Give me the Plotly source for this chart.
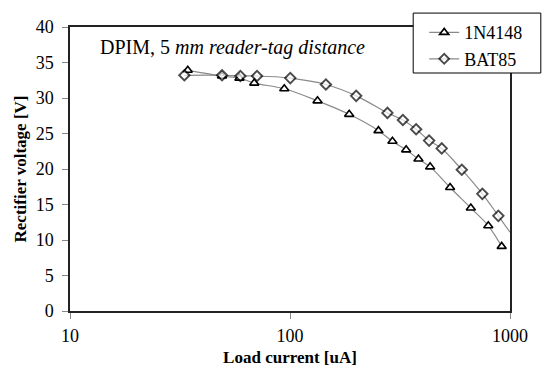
import plotly.graph_objects as go

# Load current [uA] and rectifier output voltage [V] for the two diodes
current_1n4148 = [34.3, 49.1, 58.9, 68.8, 94.2, 133.4, 185.8, 252.4, 292.2,
                  337.3, 383.6, 433.5, 534.2, 663.5, 796.9, 916.6]
voltage_1n4148 = [33.9, 33.1, 32.8, 32.1, 31.3, 29.6, 27.7, 25.4, 23.9,
                  22.7, 21.4, 20.3, 17.4, 14.5, 12.0, 9.1]

current_bat85 = [33.1, 49.1, 59.5, 70.8, 100.3, 145.6, 199.9, 277.3, 325.9,
                 374.4, 428.8, 489.4, 603.7, 748.7, 885.2, 1000.0]
voltage_bat85 = [33.2, 33.2, 33.1, 33.1, 32.8, 31.9, 30.3, 27.9, 26.9,
                 25.6, 24.0, 22.9, 19.9, 16.5, 13.4, 11.1]
# last BAT85 sample only continues the curve to the axis edge (no marker)
bat85_marker_sizes = [8] * (len(current_bat85) - 1) + [0]

x_ticks = [10, 100, 1000]
y_ticks = [0, 5, 10, 15, 20, 25, 30, 35, 40]

serif = "'Liberation Serif', 'Times New Roman', 'DejaVu Serif', serif"
line_grey = "#8a8a8a"

fig = go.Figure()
fig.add_trace(go.Scatter(
    x=current_1n4148, y=voltage_1n4148, name="1N4148",
    mode="lines+markers", line=dict(color=line_grey, width=1.2, shape="spline"),
    marker=dict(symbol="triangle-up", size=8, color="white",
                line=dict(color="black", width=1.6)),
))
fig.add_trace(go.Scatter(
    x=current_bat85, y=voltage_bat85, name="BAT85",
    mode="lines+markers", line=dict(color=line_grey, width=1.2, shape="spline"),
    marker=dict(symbol="diamond", size=bat85_marker_sizes, color="white",
                line=dict(color="black", width=1.9)),
))

fig.update_layout(
    width=542, height=367,
    margin=dict(l=70, r=32, t=27, b=56),
    paper_bgcolor="white", plot_bgcolor="white",
    font=dict(family=serif, size=18, color="black"),
    showlegend=True,
    legend=dict(
        x=0.805, y=1.045, xanchor="left", yanchor="top",
        bgcolor="rgba(0,0,0,0)", borderwidth=0,
        font=dict(family=serif, size=18, color="black"),
    ),
    # frame behind the legend entries
    shapes=[dict(
        type="rect", xref="paper", yref="paper", layer="above",
        x0=0.78, x1=1.07, y0=0.838, y1=1.049,
        line=dict(color="black", width=1), fillcolor="white",
    )],
    annotations=[dict(
        text="DPIM, 5 <i>mm reader-tag distance</i>",
        xref="paper", yref="paper", x=0.063, y=0.975,
        xanchor="left", yanchor="top", showarrow=False,
        font=dict(family=serif, size=20, color="black"),
    )],
)

fig.update_xaxes(
    type="log", range=[1, 3], automargin=False,
    tickvals=x_ticks, ticktext=[str(v) for v in x_ticks],
    ticks="outside", ticklen=6, tickcolor="#888888", ticklabelstandoff=2,
    showline=True, linecolor="#222222", linewidth=1.5, mirror=True,
    showgrid=False, zeroline=False,
    title=dict(text="<b>Load current [uA]</b>", font=dict(family=serif, size=17),
               standoff=8),
)
fig.update_yaxes(
    range=[0, 40], tickvals=y_ticks, automargin=False,
    ticks="outside", ticklen=6, tickcolor="#888888", ticklabelstandoff=5,
    showline=True, linecolor="#222222", linewidth=1.5, mirror=True,
    showgrid=False, zeroline=False,
    title=dict(text="<b>Rectifier voltage [V]</b>", font=dict(family=serif, size=17),
               standoff=5),
)

fig.write_html("out.html")
